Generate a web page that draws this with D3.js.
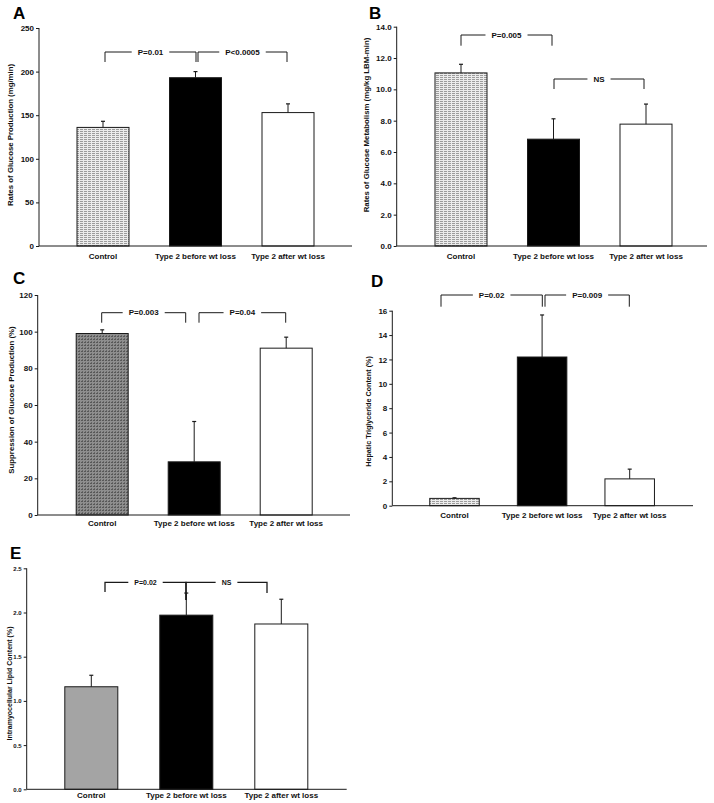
<!DOCTYPE html>
<html>
<head>
<meta charset="utf-8">
<script src="https://cdn.jsdelivr.net/npm/d3@7/dist/d3.min.js"></script>
<style>
  html, body { margin: 0; padding: 0; background: #fff; }
  svg { display: block; font-family: "Liberation Sans", Arial, sans-serif; }
</style>
</head>
<body>
<svg id="chart" width="714" height="803"></svg>
<script>
// ---------------- DATA ----------------
const categories = ["Control", "Type 2 before wt loss", "Type 2 after wt loss"];

// A: Rates of glucose production (mg/min)
const productionMeans = [136, 193, 153];
const productionSE = [7, 7, 10];
const productionTicks = [0, 50, 100, 150, 200, 250];
const productionBrackets = [
  { from: 0, to: 1, label: "P=0.01" },
  { from: 1, to: 2, label: "P<0.0005" }
];

// B: Rates of glucose metabolism (mg/kg LBM-min)
const metabolismMeans = [11.05, 6.82, 7.78];
const metabolismSE = [0.55, 1.3, 1.28];
const metabolismTicks = [0, 2, 4, 6, 8, 10, 12, 14];
const metabolismBrackets = [
  { from: 0, to: 1, label: "P=0.005" },
  { from: 1, to: 2, label: "NS" }
];

// C: Suppression of glucose production (%)
const suppressionMeans = [99, 29, 91];
const suppressionSE = [2, 22, 6];
const suppressionTicks = [0, 20, 40, 60, 80, 100, 120];
const suppressionBrackets = [
  { from: 0, to: 1, label: "P=0.003" },
  { from: 1, to: 2, label: "P=0.04" }
];

// D: Hepatic triglyceride content (%)
const hepaticMeans = [0.6, 12.2, 2.2];
const hepaticSE = [0.05, 3.45, 0.8];
const hepaticTicks = [0, 2, 4, 6, 8, 10, 12, 14, 16];
const hepaticBrackets = [
  { from: 0, to: 1, label: "P=0.02" },
  { from: 1, to: 2, label: "P=0.009" }
];

// E: Intramyocellular lipid content (%)
const lipidMeans = [1.16, 1.97, 1.87];
const lipidSE = [0.13, 0.25, 0.28];
const lipidTicks = [0, 0.5, 1.0, 1.5, 2.0, 2.5];
const lipidBrackets = [
  { from: 0, to: 1, label: "P=0.02" },
  { from: 1, to: 2, label: "NS" }
];

// ---------------- LAYOUT ----------------
const svg = d3.select("#chart");
const defs = svg.append("defs");

// light hatched fill (control bars A, B, D)
const pLight = defs.append("pattern").attr("id", "hatchLight")
  .attr("patternUnits", "userSpaceOnUse").attr("width", 4).attr("height", 2);
pLight.append("rect").attr("width", 4).attr("height", 2).attr("fill", "#ececec");
pLight.append("rect").attr("x", 0).attr("y", 1).attr("width", 3).attr("height", 1).attr("fill", "#9c9c9c");

// dark stippled fill (control bar C)
const pDark = defs.append("pattern").attr("id", "stippleDark")
  .attr("patternUnits", "userSpaceOnUse").attr("width", 3).attr("height", 3);
pDark.append("rect").attr("width", 3).attr("height", 3).attr("fill", "#8e8e8e");
pDark.append("rect").attr("x", 0).attr("y", 0).attr("width", 2).attr("height", 1).attr("fill", "#585858");
pDark.append("rect").attr("x", 1).attr("y", 2).attr("width", 1).attr("height", 1).attr("fill", "#666");

const panels = [
  {
    letter: "A", means: productionMeans, se: productionSE, ticks: productionTicks, brackets: productionBrackets,
    fmt: d3.format("d"), yLabel: "Rates of Glucose Production (mg/min)",
    axisX: 39, xEnd: 352, yTop: 28, yBottom: 246, c0: 103, c2: 288, bw: 52,
    fills: ["url(#hatchLight)", "#000", "#fff"],
    letterX: 13, letterY: 19, labX: 10, labY: 135, labSize: 7.8, tickFont: 8, catDy: 13,
    br: [{ dx1: 2, dx2: 0.5, top: 52, d1: 62, d2: 62 }, { dx1: 2.5, dx2: -1, top: 52, d1: 62, d2: 62 }],
    brFont: 8, brWidth: 1
  },
  {
    letter: "B", means: metabolismMeans, se: metabolismSE, ticks: metabolismTicks, brackets: metabolismBrackets,
    fmt: d3.format(".1f"), yLabel: "Rates of Glucose Metabolism (mg/kg LBM-min)",
    axisX: 396.7, xEnd: 707, yTop: 26.7, yBottom: 246, c0: 461, c2: 646, bw: 52,
    fills: ["url(#hatchLight)", "#000", "#fff"],
    letterX: 369, letterY: 18.5, labX: 366.5, labY: 125, labSize: 7.8, tickFont: 8, catDy: 13,
    br: [{ dx1: 0, dx2: -1.5, top: 35, d1: 45.7, d2: 45.7 }, { dx1: 0.5, dx2: -2, top: 79, d1: 89, d2: 89 }],
    brFont: 8, brWidth: 1
  },
  {
    letter: "C", means: suppressionMeans, se: suppressionSE, ticks: suppressionTicks, brackets: suppressionBrackets,
    fmt: d3.format("d"), yLabel: "Suppression of Glucose  Production (%)",
    axisX: 37.7, xEnd: 350, yTop: 295, yBottom: 515, c0: 102.2, c2: 286.2, bw: 52,
    fills: ["url(#stippleDark)", "#000", "#fff"],
    letterX: 13, letterY: 284, labX: 11, labY: 400, labSize: 7.8, tickFont: 8, catDy: 11,
    br: [{ dx1: -0.5, dx2: -8.5, top: 312.7, d1: 322.7, d2: 322.7 }, { dx1: 4.8, dx2: -0.5, top: 312.7, d1: 322.7, d2: 322.7 }],
    brFont: 8, brWidth: 1
  },
  {
    letter: "D", means: hepaticMeans, se: hepaticSE, ticks: hepaticTicks, brackets: hepaticBrackets,
    fmt: d3.format("d"), yLabel: "Hepatic Triglyceride Content (%)",
    axisX: 392.3, xEnd: 693, yTop: 310.7, yBottom: 505.7, c0: 454.5, c2: 629.7, bw: 49.5,
    fills: ["url(#hatchLight)", "#000", "#fff"],
    letterX: 371, letterY: 287, labX: 368.5, labY: 411.5, labSize: 7.2, tickFont: 8, catDy: 12.6,
    br: [{ dx1: -13.5, dx2: 0.2, top: 295, d1: 306.7, d2: 306.7 }, { dx1: 2.9, dx2: -0.4, top: 295, d1: 306.7, d2: 306.7 }],
    brFont: 8, brWidth: 1
  },
  {
    letter: "E", means: lipidMeans, se: lipidSE, ticks: lipidTicks, brackets: lipidBrackets,
    fmt: d3.format(".1f"), yLabel: "Intramyocellular Lipid Content (%)",
    axisX: 26.7, xEnd: 346.7, yTop: 568.3, yBottom: 789.3, c0: 91.3, c2: 281.3, bw: 53,
    fills: ["#a4a4a4", "#000", "#fff"],
    letterX: 10, letterY: 559, labX: 9, labY: 683.5, labSize: 7, tickFont: 6, catDy: 8.7,
    br: [{ dx1: 13.7, dx2: -0.3, top: 582.3, d1: 592, d2: 600 }, { dx1: -0.3, dx2: -14.3, top: 582.3, d1: 600, d2: 593 }],
    brFont: 7, brWidth: 1.3
  }
];

const ink = "#1a1a1a";

panels.forEach(p => {
  const g = svg.append("g");
  const y = d3.scaleLinear()
    .domain([0, d3.max(p.ticks)])
    .range([p.yBottom, p.yTop]);
  const x = d3.scalePoint().domain(categories).range([p.c0, p.c2]);

  // panel letter
  g.append("text").attr("x", p.letterX).attr("y", p.letterY)
    .attr("font-size", 17).attr("font-weight", "bold").attr("fill", "#000")
    .text(p.letter);

  // bars
  g.selectAll("rect.bar").data(categories).enter().append("rect")
    .attr("class", "bar")
    .attr("x", d => x(d) - p.bw / 2)
    .attr("width", p.bw)
    .attr("y", (d, i) => y(p.means[i]))
    .attr("height", (d, i) => p.yBottom - y(p.means[i]))
    .attr("fill", (d, i) => p.fills[i])
    .attr("stroke", ink).attr("stroke-width", 1);

  // error bars (upper only)
  categories.forEach((c, i) => {
    const cx = x(c);
    const y1 = y(p.means[i]);
    const y2 = y(p.means[i] + p.se[i]);
    g.append("line").attr("x1", cx).attr("x2", cx).attr("y1", y1).attr("y2", y2)
      .attr("stroke", ink).attr("stroke-width", 1);
    g.append("line").attr("x1", cx - 2).attr("x2", cx + 2).attr("y1", y2).attr("y2", y2)
      .attr("stroke", ink).attr("stroke-width", 1.2);
  });

  // y axis
  const yAxis = d3.axisLeft(y).tickValues(p.ticks).tickFormat(p.fmt).tickSize(3).tickPadding(2);
  const ag = g.append("g").attr("transform", `translate(${p.axisX},0)`).call(yAxis);
  ag.select(".domain").attr("stroke", ink).attr("d", `M-0,${p.yBottom}V${p.yTop}`);
  ag.selectAll(".tick line").attr("stroke", ink);
  ag.selectAll(".tick text").attr("font-size", p.tickFont).attr("font-weight", "bold")
    .attr("font-family", "Liberation Sans, Arial, sans-serif").attr("fill", "#111");

  // x axis baseline
  g.append("line").attr("x1", p.axisX).attr("x2", p.xEnd)
    .attr("y1", p.yBottom).attr("y2", p.yBottom)
    .attr("stroke", ink).attr("stroke-width", 1);

  // category labels
  g.selectAll("text.cat").data(categories).enter().append("text")
    .attr("class", "cat")
    .attr("x", d => x(d)).attr("y", p.yBottom + p.catDy)
    .attr("text-anchor", "middle").attr("font-size", 8).attr("font-weight", "bold")
    .attr("fill", "#111")
    .text(d => d);

  // y-axis label
  g.append("text")
    .attr("transform", `translate(${p.labX},${p.labY}) rotate(-90)`)
    .attr("text-anchor", "middle").attr("dominant-baseline", "central")
    .attr("font-size", p.labSize).attr("font-weight", "bold").attr("fill", "#111")
    .text(p.yLabel);

  // significance brackets
  p.brackets.forEach((b, k) => {
    const geo = p.br[k];
    const xa = x(categories[b.from]) + geo.dx1;
    const xb = x(categories[b.to]) + geo.dx2;
    const mid = (xa + xb) / 2;
    const t = g.append("text").attr("x", mid).attr("y", geo.top)
      .attr("text-anchor", "middle").attr("dominant-baseline", "central")
      .attr("font-size", p.brFont).attr("font-weight", "bold").attr("fill", "#111")
      .text(b.label);
    const tw = t.node().getComputedTextLength();
    const gap = tw / 2 + 6;
    const path = d3.path();
    path.moveTo(xa, geo.d1); path.lineTo(xa, geo.top); path.lineTo(mid - gap, geo.top);
    path.moveTo(mid + gap, geo.top); path.lineTo(xb, geo.top); path.lineTo(xb, geo.d2);
    g.append("path").attr("d", path.toString()).attr("fill", "none")
      .attr("stroke", ink).attr("stroke-width", p.brWidth);
  });
});
</script>
</body>
</html>
